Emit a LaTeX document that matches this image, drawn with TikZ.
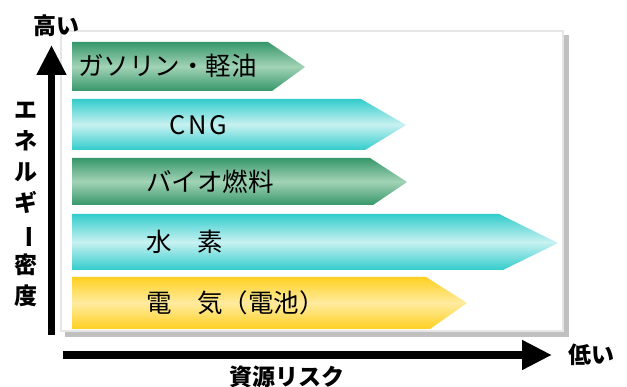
\documentclass[tikz,border=0pt]{standalone}
\usepackage{fontspec}
\usetikzlibrary{arrows.meta}
\newfontfamily\jp{Noto Sans CJK JP}
\definecolor{gdark}{HTML}{36976A}
\definecolor{glight}{HTML}{A2D3B6}
\definecolor{cdark}{HTML}{33CCCC}
\definecolor{clight}{HTML}{C8F1F1}
\definecolor{ydark}{HTML}{FFD020}
\definecolor{ylight}{HTML}{FFEBA0}
\definecolor{panelborder}{HTML}{E6E6E6}
\definecolor{shadowgray}{HTML}{C0C0C0}
\newcommand{\fuelbar}[7]{% y1 y2 xtop xbot xtip ytip style
  \shade[#7] (72,#1) -- (#3,#1) -- (#5,#6) -- (#4,#2) -- (72,#2) -- cycle;}
\begin{document}
\begin{tikzpicture}[x=1pt,y=-1pt,
  axis/.style={line width=7.5pt,-{Triangle[length=30pt,width=28pt]}},
  barlabel/.style={anchor=west,inner sep=0pt,font=\jp\fontsize{25.5}{30}\selectfont},
  axlabel/.style={inner sep=0pt,align=center,font=\jp\bfseries\fontsize{23}{31}\selectfont},
  greenbar/.style={top color=gdark,bottom color=gdark,middle color=glight},
  cyanbar/.style={top color=cdark,bottom color=cdark,middle color=clight},
  yellowbar/.style={top color=ydark,bottom color=ydark,middle color=ylight}]
\useasboundingbox (0,0) rectangle (627,387);
\fill[white] (0,0) rectangle (627,387);
% panel
\fill[shadowgray] (65,35) rectangle (569,337);
\fill[white] (60,30) rectangle (564,332);
\draw[panelborder,line width=2pt] (61,31) rectangle (563,331);
% bars
\fuelbar{42}{91}{268}{272}{305}{67}{greenbar}
\fuelbar{99}{150}{361}{365}{406}{125}{cyanbar}
\fuelbar{158}{205}{370}{373}{407}{182}{greenbar}
\fuelbar{214}{270}{499}{503}{558}{243}{cyanbar}
\fuelbar{277}{329}{426}{430}{467}{303}{yellowbar}
% bar labels
\node[barlabel] (gas) at (78,66) {ガソリン・軽油};
\node[barlabel] (cng) at (169,125) {C\kern3pt N\kern3pt G};
\node[barlabel] (bio) at (146,182) {バイオ燃料};
\node[barlabel] (h2) at (146,242) {水　素};
\node[barlabel] (elec) at (146,303) {電　気（電池）};
% axes
\coordinate (yb) at (51.5,335);
\coordinate (yt) at (51.5,45);
\coordinate (xl) at (63,355);
\coordinate (xr) at (552,355);
\draw[axis] (yb) -- (yt);
\draw[axis,line width=8pt] (xl) -- (xr);
% axis labels
\node[axlabel] (high) at (56,26) {高い};
\node[axlabel] (low) at (591,355) {低い};
\node[axlabel] (risk) at (287,377) {資源リスク};
\node[axlabel] (dens) at (26,204) {エ\\ネ\\ル\\ギ\\\rotatebox[origin=c]{-90}{ー}\\密\\度};
\end{tikzpicture}
\end{document}
